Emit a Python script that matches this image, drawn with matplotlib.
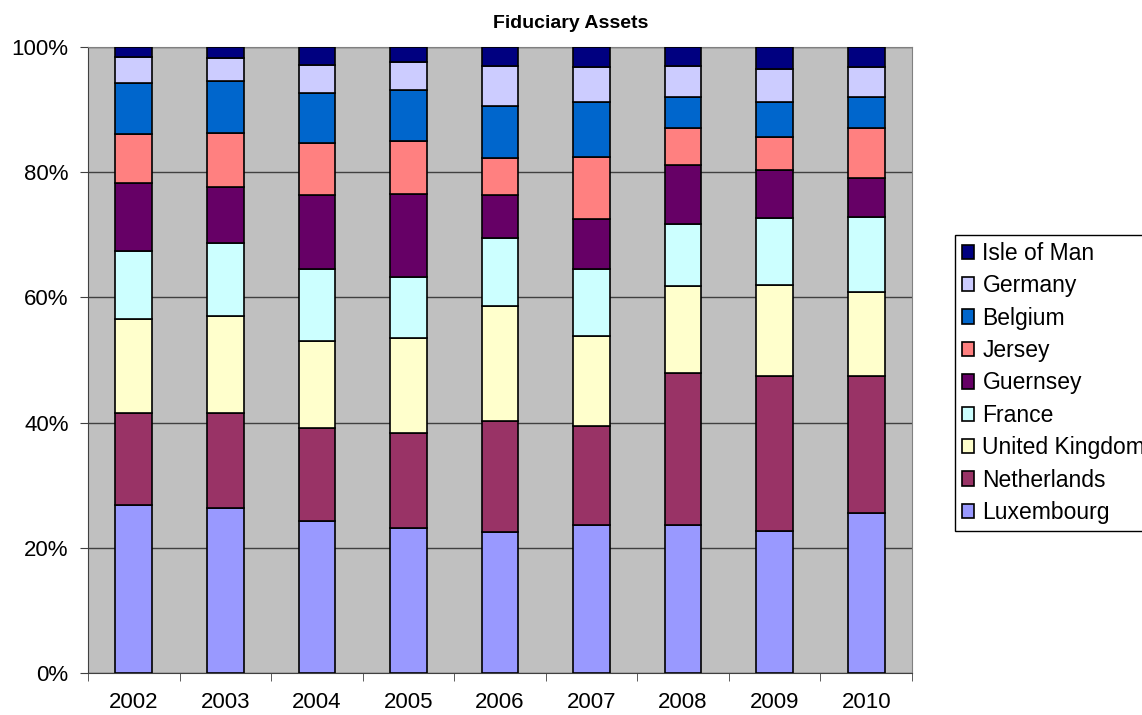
import numpy as np
import matplotlib.pyplot as plt
from matplotlib.ticker import PercentFormatter, FixedLocator

plt.rcParams["font.family"] = ["Liberation Sans", "DejaVu Sans"]

years = ["2002", "2003", "2004", "2005", "2006", "2007", "2008", "2009", "2010"]

# share of fiduciary assets per country (%), bottom to top
luxembourg = [26.8, 26.4, 24.3, 23.1, 22.6, 23.7, 23.7, 22.7, 25.6]
netherlands = [14.7, 15.1, 14.8, 15.2, 17.7, 15.7, 24.3, 24.7, 21.9]
united_kingdom = [15.1, 15.5, 13.9, 15.2, 18.3, 14.4, 13.9, 14.6, 13.3]
france = [10.8, 11.7, 11.5, 9.8, 10.9, 10.8, 9.9, 10.7, 12.1]
guernsey = [10.9, 8.9, 11.9, 13.2, 6.9, 7.9, 9.4, 7.6, 6.1]
jersey = [7.8, 8.6, 8.3, 8.5, 5.9, 10.0, 5.8, 5.3, 8.1]
belgium = [8.2, 8.4, 7.9, 8.2, 8.2, 8.7, 5.0, 5.6, 4.9]
germany = [4.1, 3.7, 4.6, 4.4, 6.5, 5.6, 4.9, 5.3, 4.8]
isle_of_man = [1.6, 1.7, 2.8, 2.4, 3.0, 3.2, 3.1, 3.5, 3.2]

series = [
    ("Luxembourg", luxembourg, "#9999FF"),
    ("Netherlands", netherlands, "#993366"),
    ("United Kingdom", united_kingdom, "#FFFFCC"),
    ("France", france, "#CCFFFF"),
    ("Guernsey", guernsey, "#660066"),
    ("Jersey", jersey, "#FF8080"),
    ("Belgium", belgium, "#0066CC"),
    ("Germany", germany, "#CCCCFF"),
    ("Isle of Man", isle_of_man, "#000080"),
]

fig = plt.figure(figsize=(11.42, 7.15), dpi=100)
ax = fig.add_axes([88 / 1142, 42 / 715, 824 / 1142, 626 / 715])
ax.set_facecolor("#C0C0C0")

x = np.arange(len(years))
data = np.array([s[1] for s in series], dtype=float)
data = data / data.sum(axis=0) * 100  # normalise to 100% stacked

bottom = np.zeros(len(years))
handles = []
for (name, _, color), vals in zip(series, data):
    b = ax.bar(x, vals, 0.4, bottom=bottom, color=color, edgecolor="black",
               linewidth=1.2, label=name, zorder=3)
    handles.append(b)
    bottom += vals

ax.set_xlim(-0.5, len(years) - 0.5)
ax.set_ylim(0, 100)
ax.yaxis.set_major_formatter(PercentFormatter(decimals=0))
ax.set_yticks([0, 20, 40, 60, 80, 100])
ax.grid(axis="y", color="#404040", linewidth=1, zorder=1)
ax.set_xticks(x)
ax.set_xticklabels(years)
ax.xaxis.set_minor_locator(FixedLocator(np.arange(-0.5, len(years), 1)))
ax.tick_params(axis="x", which="major", length=0, labelsize=16, pad=14)
ax.tick_params(axis="x", which="minor", length=6, color="#404040")
ax.tick_params(axis="y", length=6, labelsize=16, color="#404040", pad=8)

for side in ["left", "bottom"]:
    ax.spines[side].set_color("#404040")
for side in ["top", "right"]:
    ax.spines[side].set_color("#808080")

fig.text(0.5, 1 - 23 / 715, "Fiduciary Assets", fontsize=14,
         fontweight="bold", ha="center", va="center")

leg = fig.legend(handles[::-1], [s[0] for s in series][::-1],
                 loc="upper left", bbox_to_anchor=(955 / 1142, 1 - 235 / 715),
                 fontsize=16.5, frameon=True, fancybox=False, framealpha=1,
                 edgecolor="black", handlelength=0.55, handleheight=0.6,
                 handletextpad=0.35, labelspacing=0.41, borderaxespad=0,
                 borderpad=0.3)
leg.get_frame().set_linewidth(1)

fig.savefig("out.png", dpi=100)
